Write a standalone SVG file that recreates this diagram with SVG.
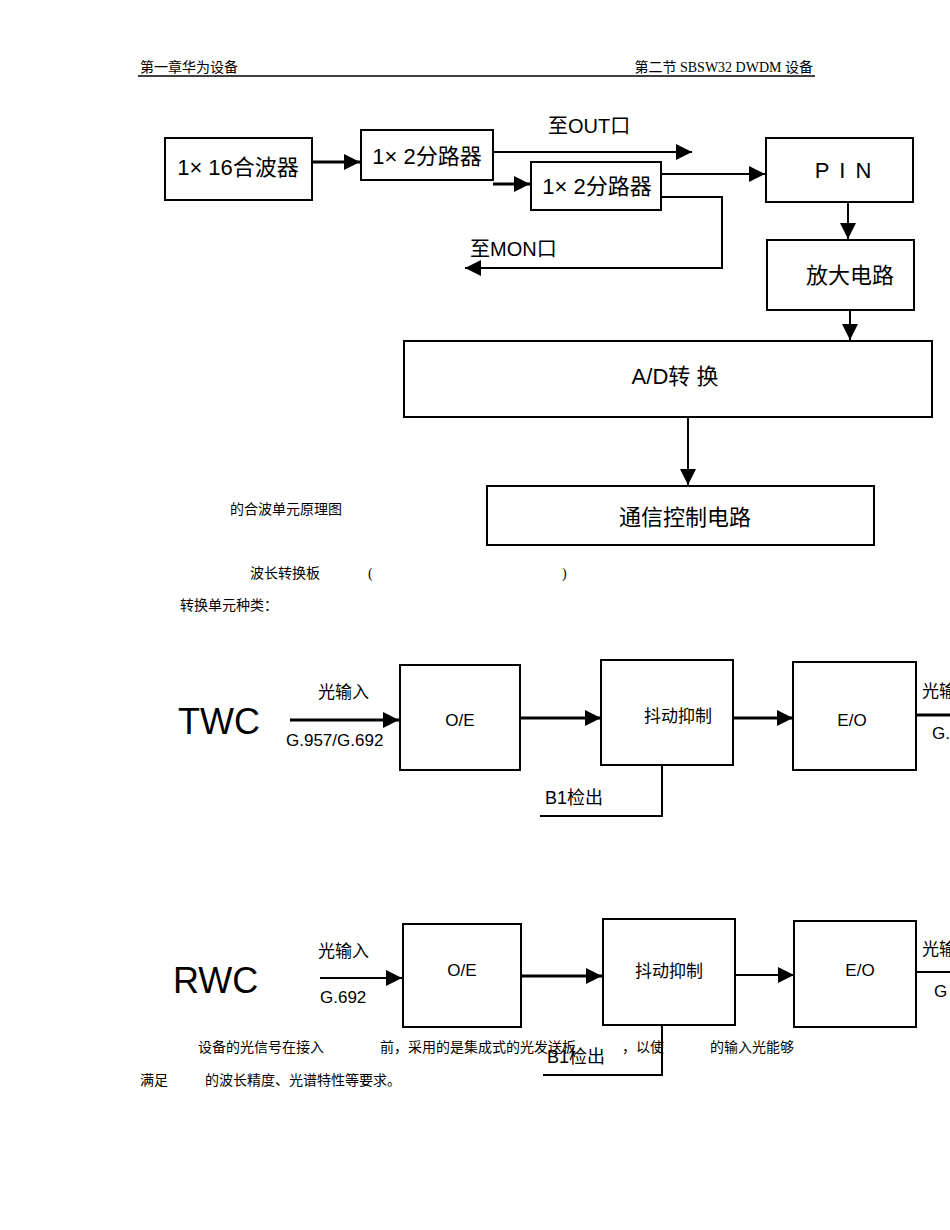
<svg xmlns="http://www.w3.org/2000/svg" width="950" height="1230" viewBox="0 0 950 1230">
<defs>
<marker id="ah" viewBox="0 0 10 10" refX="10" refY="5" markerWidth="10" markerHeight="10" markerUnits="userSpaceOnUse" orient="auto"><path d="M0,0L10,5L0,10z" fill="#000"/></marker>
<marker id="ahb" viewBox="0 0 10 10" refX="10" refY="5" markerWidth="16" markerHeight="16" markerUnits="userSpaceOnUse" orient="auto"><path d="M0,0L10,5L0,10z" fill="#000"/></marker>
<style>
.b{fill:#fff;stroke:#000;stroke-width:2}
.bt{fill:#fff;stroke:#000;stroke-width:3}
.l{fill:none;stroke:#000;stroke-width:2}
.lb{fill:none;stroke:#000;stroke-width:3}
.s{font-family:"Liberation Sans","Noto Sans CJK SC",sans-serif;fill:#000}
.r{font-family:"Liberation Serif","Noto Sans CJK SC",serif;font-size:14px;fill:#000}
</style>
</defs>
<rect width="950" height="1230" fill="#fff"/>
<g id="header">
<text class="r" x="140" y="72">第一章华为设备</text>
<text class="r" x="813" y="72" text-anchor="end">第二节  SBSW32 DWDM  设备</text>
<line x1="138" y1="76" x2="815" y2="76" stroke="#000" stroke-width="1.5"/>
</g>
<g id="connectors">
<line class="lb" x1="312" y1="162" x2="360" y2="162" marker-end="url(#ahb)"/>
<line class="l" x1="493" y1="152" x2="692" y2="152" marker-end="url(#ahb)"/>
<line class="lb" x1="493" y1="184" x2="530" y2="184" marker-end="url(#ahb)"/>
<line class="l" x1="661" y1="174" x2="765" y2="174" marker-end="url(#ahb)"/>
<polyline class="l" points="661,197 722,197 722,268 465,268" marker-end="url(#ahb)"/>
<line class="l" x1="848" y1="202" x2="848" y2="239" marker-end="url(#ahb)"/>
<line class="l" x1="850" y1="310" x2="850" y2="340" marker-end="url(#ahb)"/>
<line class="l" x1="688" y1="417" x2="688" y2="485" marker-end="url(#ahb)"/>
<line class="lb" x1="290" y1="720" x2="399" y2="720" marker-end="url(#ahb)"/>
<line class="lb" x1="520" y1="718" x2="601" y2="718" marker-end="url(#ahb)"/>
<line class="lb" x1="733" y1="718" x2="793" y2="718" marker-end="url(#ahb)"/>
<line class="lb" x1="916" y1="715" x2="950" y2="715"/>
<polyline class="l" points="662,765 662,816 540,816"/>
<line class="l" x1="320" y1="978" x2="402" y2="978" marker-end="url(#ahb)"/>
<line class="lb" x1="521" y1="976" x2="602" y2="976" marker-end="url(#ahb)"/>
<line class="l" x1="735" y1="975" x2="794" y2="975" stroke-width="1" marker-end="url(#ahb)"/>
<line class="l" x1="916" y1="972" x2="950" y2="972" stroke-width="1"/>
<polyline class="l" points="662,1025 662,1075 543,1075"/>
</g>
<g id="n1"><rect class="b" x="165" y="138" width="147" height="62"/><text class="s" x="238" y="175" font-size="22" text-anchor="middle">1×  16合波器</text></g>
<g id="n2"><rect class="b" x="361" y="130" width="132" height="50"/><text class="s" x="427" y="164" font-size="22" text-anchor="middle">1×  2分路器</text></g>
<g id="n3"><rect class="b" x="531" y="162" width="130" height="48"/><text class="s" x="597" y="194" font-size="22" text-anchor="middle">1×  2分路器</text></g>
<g id="n4"><rect class="b" x="766" y="138" width="147" height="64"/><text class="s" x="848" y="178" font-size="22" letter-spacing="10" text-anchor="middle">PIN</text></g>
<g id="n5"><rect class="b" x="767" y="240" width="147" height="70"/><text class="s" x="850" y="283" font-size="22" text-anchor="middle">放大电路</text></g>
<g id="n6"><rect class="b" x="404" y="341" width="528" height="76"/><text class="s" x="675" y="384" font-size="22" text-anchor="middle">A/D转 换</text></g>
<g id="n7"><rect class="b" x="487" y="486" width="387" height="59"/><text class="s" x="685" y="525" font-size="22" text-anchor="middle">通信控制电路</text></g>
<g id="lbl1">
<text class="s" x="548" y="133" font-size="20">至OUT口</text>
<text class="s" x="470" y="256" font-size="20">至MON口</text>
<text class="r" x="230" y="514">的合波单元原理图</text>
<text class="r" x="250" y="578">波长转换板</text>
<text class="r" x="368" y="578">(</text>
<text class="r" x="562" y="578">)</text>
<text class="r" x="180" y="610">转换单元种类：</text>
</g>
<g id="twc">
<text class="s" x="178" y="734" font-size="36">TWC</text>
<text class="s" x="318" y="698" font-size="17" fill="#555">光输入</text>
<text class="s" x="286" y="746" font-size="17">G.957/G.692</text>
<text class="s" x="922" y="697" font-size="17">光输</text>
<text class="s" x="932" y="739" font-size="17">G.</text>
<text class="s" x="545" y="804" font-size="18">B1检出</text>
</g>
<g id="t_oe"><rect class="b" x="400" y="665" width="120" height="105"/><text class="s" x="460" y="726" font-size="17" text-anchor="middle">O/E</text></g>
<g id="t_jd"><rect class="b" x="601" y="660" width="132" height="105"/><text class="s" x="678" y="722" font-size="17" fill="#888" text-anchor="middle">抖动抑制</text></g>
<g id="t_eo"><rect class="b" x="793" y="662" width="123" height="108"/><text class="s" x="852" y="726" font-size="17" text-anchor="middle">E/O</text></g>
<g id="rwc">
<text class="s" x="173" y="993" font-size="36">RWC</text>
<text class="s" x="318" y="957" font-size="17" fill="#555">光输入</text>
<text class="s" x="320" y="1003" font-size="17">G.692</text>
<text class="s" x="922" y="955" font-size="17">光输</text>
<text class="s" x="934" y="997" font-size="17">G</text>
<text class="s" x="547" y="1063" font-size="18">B1检出</text>
</g>
<g id="r_oe"><rect class="b" x="403" y="924" width="118" height="103"/><text class="s" x="462" y="976" font-size="17" text-anchor="middle">O/E</text></g>
<g id="r_jd"><rect class="b" x="603" y="919" width="132" height="106"/><text class="s" x="669" y="977" font-size="17" fill="#555" text-anchor="middle">抖动抑制</text></g>
<g id="r_eo"><rect class="b" x="794" y="921" width="122" height="106" stroke-width="1"/><text class="s" x="860" y="976" font-size="17" text-anchor="middle">E/O</text></g>
<g id="para">
<text class="r" x="198" y="1052">设备的光信号在接入</text>
<text class="r" x="380" y="1052">前，采用的是集成式的光发送板</text>
<text class="r" x="622" y="1052">，以使</text>
<text class="r" x="710" y="1052">的输入光能够</text>
<text class="r" x="140" y="1085">满足</text>
<text class="r" x="205" y="1085">的波长精度、光谱特性等要求。</text>
</g>
</svg>
